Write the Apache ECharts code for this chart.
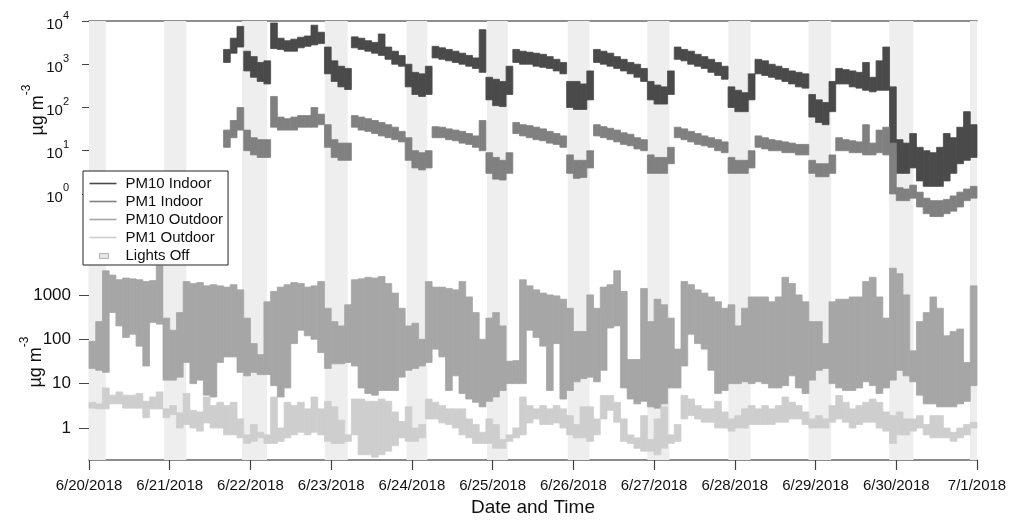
<!DOCTYPE html>
<html><head><meta charset="utf-8">
<script src="https://cdn.jsdelivr.net/npm/echarts@6/dist/echarts.min.js"></script>
<style>html,body{margin:0;padding:0;background:#fff}#c{width:1020px;height:521px}</style>
</head><body><div id="c"></div>
<script>
// ---------- data (µg m-3), 2-hour slots: low / high reading of each slot ----------
const X_START = '2018-06-20 00:00';
const X_END = '2018-07-01 00:00';
const OUT_START = '2018-06-20 00:00';
const IN_START = '2018-06-21 16:00';
const SLOT_HOURS = 2;
const SERIES_NAMES = ['PM10 Indoor', 'PM1 Indoor', 'PM10 Outdoor', 'PM1 Outdoor', 'Lights Off'];
const TOP_TICKS = [1, 10, 100, 1000, 10000];
const BOTTOM_TICKS = [1, 10, 100, 1000];
const Y_TITLE = 'µg m';
const Y_TITLE_SUP = '-3';
const X_TITLE = 'Date and Time';

const PM10_OUT_LO = [
 22,20,18,400,200,110,130,70,25,240,220,12,
 12,14,30,10,12,5.5,5,30,40,40,18,15,
 18,16,16,9,5,8,80,160,120,100,50,22,
 28,28,30,25,8,6,5.5,7,7,7,14,20,
 22,25,30,60,40,7,15,6,4.5,3.8,3,4,
 5,7,10,10,10,160,110,70,7,80,4.5,7,
 11,13,14,11,20,180,200,8,4.5,3.5,4,3,
 2.8,3.5,8,8,25,130,80,60,20,6,7,10,
 10,11,10,11,10,8,8,9,15,8,6,12,
 20,22,10,8,7,7,8,11,9,6,8,12,
 20,15,11,5.5,3.5,3.5,3,3,3,3.5,4,9];
const PM10_OUT_HI = [
 90,250,3500,2800,2200,2400,2300,2200,2000,2100,4500,300,
 160,400,2000,1800,1900,1600,1700,1600,1500,1700,1300,300,
 80,45,700,1200,1500,1700,1900,1800,1500,1600,2000,500,
 250,200,600,2200,2300,2500,2400,2600,1800,1100,500,200,
 230,100,2000,1500,1500,1400,1300,2000,900,400,100,300,
 400,200,32,33,2200,1600,1300,1100,1000,950,800,500,
 150,150,1000,500,1500,1700,3500,1200,35,35,1400,250,
 800,600,300,60,2000,1700,1300,1100,900,700,500,600,
 200,500,900,900,900,700,900,2500,1800,1000,700,250,
 250,80,700,800,800,900,900,2000,2500,900,300,4000,
 3000,1000,55,250,400,900,500,120,150,170,30,1600];
const PM1_OUT_LO = [
 2.8,2.7,2.7,3.5,3.5,2.8,2.8,2.8,1.7,2.7,2.7,1.7,
 2,1.0,1.2,1.0,0.85,1.3,1.0,1.0,0.7,0.7,0.6,0.45,
 0.5,0.6,0.45,0.45,0.5,0.6,0.7,0.8,0.7,0.8,0.7,0.5,
 0.45,0.45,0.5,0.7,0.25,0.25,0.22,0.25,0.3,0.4,0.6,0.5,
 0.5,0.6,1.6,1.6,1.3,1.2,1.0,0.7,0.6,0.45,0.45,0.45,
 0.35,0.35,0.5,0.6,0.7,1.3,1.6,1.2,1.2,1.3,1.0,0.7,
 0.6,0.6,0.5,0.7,1.6,2.5,1.35,0.5,0.45,0.35,0.3,0.3,
 0.25,0.35,0.45,0.5,1.6,1.9,1.6,1.35,1.35,1.0,1.0,0.85,
 1.0,1.0,1.2,1.2,1.2,1.2,1.35,1.35,1.6,1.6,1.2,1.0,
 1.0,1.0,1.35,1.6,1.35,1.0,1.2,1.35,1.35,1.0,0.85,0.45,
 0.7,0.7,0.85,1.0,0.7,0.6,0.6,0.6,0.5,0.6,0.7,1.0];
const PM1_OUT_HI = [
 3.8,3.5,8,5.5,6.5,5.5,5.5,6,4,5,6.5,2.7,
 3.2,2.2,6,2.5,2.3,5,3.2,3.8,3.2,3.8,1.6,0.7,
 1.2,0.8,0.7,5,1.0,3.8,3.2,3.8,2.7,5,2.7,4,
 3,1.5,0.7,4.5,4.5,4,4,4.5,4,2.3,1.4,3,
 1,1.2,4.5,3.8,3.2,2.7,2.7,2.7,1.6,1.2,0.8,1.6,
 1.2,0.55,0.7,1.0,5,3.2,2.7,3.2,2.7,3.2,2.7,1.9,
 1.2,3,3,1.6,5.4,5.4,3.8,1.6,0.7,0.6,1.9,0.55,
 1.6,3,0.7,1.2,5.4,4.5,3.2,2.7,2.7,4,2.3,1.6,
 1.9,2.7,3.2,2.7,3.2,2.7,3.2,5,3.8,3.2,2.3,1.6,
 1.9,1.6,3.2,5.4,3.8,2.7,3.2,3.8,4.5,3.8,2.3,1.9,
 2.3,1.6,1.6,1.9,1.2,1.9,1.9,1.0,0.8,1.0,1.2,1.35];
const PM10_IN_LO = [
 1100,1800,2500,700,
 500,400,350,2300,2200,2000,2000,2400,2600,2800,3000,600,
 400,300,260,2400,2200,2000,1800,1600,1300,1000,900,300,
 200,180,200,1400,1300,1200,1100,1000,900,800,650,150,
 110,105,200,1100,1000,1000,900,850,800,700,600,100,
 90,90,150,1100,1000,900,800,700,600,500,400,150,
 120,120,200,1300,1200,1000,900,800,650,550,450,100,
 80,80,150,600,550,500,450,400,350,300,280,60,
 45,40,80,350,350,300,280,250,230,250,250,10,
 3,3,4,2,1.5,1.5,1.5,2,3,5,6,7];
const PM10_IN_HI = [
 2200,4000,7500,2000,
 1500,1100,1200,9000,4000,3500,3800,4200,4500,8000,5500,2500,
 1200,900,800,4300,4000,3500,3200,5000,2500,2000,1600,1000,
 650,600,900,2600,2400,2200,2000,1800,1600,1400,6300,500,
 450,400,900,2200,2000,1900,1800,1700,1500,1300,1100,400,
 400,350,700,2200,2000,1800,1500,1300,1100,1000,800,400,
 330,300,700,2500,2200,2000,1700,1500,1300,1100,900,300,
 250,220,600,1300,1200,1000,900,800,700,650,600,200,
 150,130,400,800,750,700,650,1100,500,1200,2500,300,
 18,15,25,12,10,9,12,25,20,35,80,40];
const PM1_IN_LO = [
 12,20,30,10,
 8,7,7,35,30,30,30,35,35,35,40,12,
 7,6,6,35,30,28,25,22,20,18,16,6,
 4,3.6,4,20,20,18,17,15,14,12,10,3,
 2.2,2.1,3,25,22,20,18,17,15,14,12,3,
 2.3,2.4,4,22,20,18,16,14,13,11,10,3,
 3,3,5,20,18,16,14,13,12,10,9,3,
 3,3,4,12,11,10,10,9,9,8,8,3,
 2.5,2.5,3,10,10,9,9,8,8,9,8,1.0,
 0.7,0.7,0.8,0.5,0.35,0.3,0.3,0.35,0.4,0.5,0.7,0.8];
const PM1_IN_HI = [
 30,50,100,30,
 20,18,18,180,60,55,60,65,65,100,70,40,
 18,15,15,65,60,55,50,45,40,35,28,20,
 10,9,10,36,35,32,30,28,25,22,50,9,
 7,6,9,45,40,38,35,32,28,25,22,8,
 6,6,10,40,36,33,30,26,24,20,18,8,
 7,7,12,35,32,28,25,22,20,18,16,7,
 6,6,10,22,20,18,17,16,15,14,14,6,
 5,5,8,20,18,17,16,40,15,30,35,15,
 1.4,1.3,1.6,1.1,0.8,0.7,0.7,0.75,0.9,1.1,1.3,1.5];
const LIGHTS_OFF = [
 ['2018-06-20 00:00','2018-06-20 05:00'],
 ['2018-06-20 22:20','2018-06-21 04:55'],
 ['2018-06-21 21:30','2018-06-22 04:55'],
 ['2018-06-22 22:05','2018-06-23 04:55'],
 ['2018-06-23 22:25','2018-06-24 04:35'],
 ['2018-06-24 22:20','2018-06-25 04:30'],
 ['2018-06-25 22:20','2018-06-26 04:50'],
 ['2018-06-26 22:00','2018-06-27 04:35'],
 ['2018-06-27 22:05','2018-06-28 04:40'],
 ['2018-06-28 21:55','2018-06-29 04:40'],
 ['2018-06-29 21:55','2018-06-30 05:05'],
 ['2018-06-30 21:55','2018-07-01 00:00']];

// ---------- helpers ----------
const HOUR = 3600000, DAY = 86400000;
function t(s){const [d,h]=s.split(' ');const [Y,M,D]=d.split('-').map(Number);const [hh,mm]=h.split(':').map(Number);return Date.UTC(Y,M-1,D,hh,mm);}
function slots(start, lo, hi){const t0=t(start);return lo.map((v,i)=>[t0+i*SLOT_HOURS*HOUR, v, hi[i]]);}
function fmtDate(v){const d=new Date(v);return (d.getUTCMonth()+1)+'/'+d.getUTCDate()+'/'+d.getUTCFullYear();}

const FONT = 'Liberation Sans, Arial, sans-serif';
const C_PM10_IN = '#4a4a4a', C_PM1_IN = '#808080', C_PM10_OUT = '#a6a6a6', C_PM1_OUT = '#cecece', C_BAND = '#eeeeee';
const xMin = t(X_START), xMax = t(X_END);
const LINE_ICON = 'path://M0,0M27,12M0,5.2L27,5.2L27,6.8L0,6.8Z';

const chart = echarts.init(document.getElementById('c'), null, {renderer:'canvas'});
// range series: each 2-hour slot is drawn as a band from its low to its high reading
const rangeSeries = (name, data, color, xi, yi, z) => ({
  name, type:'custom', data, xAxisIndex:xi, yAxisIndex:yi, z, silent:true,
  itemStyle:{color}, encode:{x:0, y:[1,2]},
  renderItem:(params, api)=>{
    const a = api.coord([api.value(0), api.value(2)]);
    const b = api.coord([api.value(0) + SLOT_HOURS*HOUR, api.value(1)]);
    return {type:'rect', shape:{x:a[0], y:a[1], width:b[0]-a[0], height:Math.max(b[1]-a[1], 0.5)},
            style:{fill:color, stroke:color, lineWidth:0.8}};
  }
});

chart.setOption({
  animation:false,
  backgroundColor:'#fff',
  textStyle:{fontFamily:FONT},
  grid:[
    {left:89, right:43, top:21, height:199},
    {left:89, right:43, top:263, height:197},
    {left:89, right:43, top:21, height:439}
  ],
  xAxis:[
    {gridIndex:0, type:'value', min:xMin, max:xMax, interval:DAY, position:'top',
     axisLine:{show:true, lineStyle:{color:'#6a6a6a', width:1.5}}, axisTick:{show:false}, axisLabel:{show:false}, splitLine:{show:false}},
    {gridIndex:1, type:'value', min:xMin, max:xMax, interval:DAY, position:'bottom',
     axisLine:{show:true, onZero:false, lineStyle:{color:'#666', width:1.5}},
     axisTick:{show:true, length:10, lineStyle:{color:'#444', width:1.2}},
     axisLabel:{show:true, formatter:fmtDate, fontSize:15, color:'#111', margin:18, fontFamily:FONT},
     splitLine:{show:false},
     name:X_TITLE, nameLocation:'middle', nameGap:38, nameTextStyle:{fontSize:19, color:'#111', fontFamily:FONT}},
    {gridIndex:2, type:'value', min:xMin, max:xMax, show:false}
  ],
  yAxis:[
    {gridIndex:0, type:'log', logBase:10, min:0.25, max:10000,
     axisLine:{show:false}, axisTick:{show:true, length:7, customValues:TOP_TICKS, lineStyle:{color:'#444'}},
     splitLine:{show:false}, minorTick:{show:false},
     axisLabel:{margin:20, color:'#111', fontFamily:FONT, customValues:TOP_TICKS,
       formatter:v=>'{b|10}{s|'+Math.round(Math.log10(v))+'}',
       rich:{b:{fontSize:15, color:'#111', fontFamily:FONT, verticalAlign:'bottom', lineHeight:22},
             s:{fontSize:11, color:'#111', fontFamily:FONT, verticalAlign:'top', lineHeight:12}}}},
    {gridIndex:1, type:'log', logBase:10, min:0.19, max:5240,
     axisLine:{show:true, lineStyle:{color:'#999', width:1.2}},
     axisTick:{show:true, length:10, customValues:BOTTOM_TICKS, lineStyle:{color:'#444'}},
     splitLine:{show:false}, minorTick:{show:false},
     axisLabel:{margin:18, fontSize:17, color:'#111', fontFamily:FONT, customValues:BOTTOM_TICKS,
       formatter:v=>String(Math.round(v))}},
    {gridIndex:2, type:'value', min:0, max:1, show:false}
  ],
  legend:{
    orient:'vertical', left:83, top:171, backgroundColor:'#fff', borderColor:'#222', borderWidth:1, borderRadius:0,
    padding:[5,5,2,6], itemWidth:27, itemHeight:12, itemGap:3, z:10,
    textStyle:{fontSize:15, color:'#111', fontFamily:FONT, lineHeight:15, padding:[0,0,0,4]},
    data:[
      {name:SERIES_NAMES[0], icon:LINE_ICON},{name:SERIES_NAMES[1], icon:LINE_ICON},
      {name:SERIES_NAMES[2], icon:LINE_ICON},{name:SERIES_NAMES[3], icon:LINE_ICON},
      {name:SERIES_NAMES[4], icon:'path://M0,0M27,12M10,4L19,4L19,9L10,9Z', itemStyle:{color:'#e6e6e6', borderColor:'#b0b0b0', borderWidth:1}}
    ]
  },
  graphic:[
    {type:'text', x:34, y:110, rotation:Math.PI/2, z:10,
     style:{text:'{a|'+Y_TITLE+'}{s|'+Y_TITLE_SUP+'}', align:'center', verticalAlign:'middle', textAlign:'center', textVerticalAlign:'middle',
       rich:{a:{fontSize:18, fill:'#111', fontFamily:FONT, verticalAlign:'bottom', lineHeight:26},
             s:{fontSize:12, fill:'#111', fontFamily:FONT, verticalAlign:'top', lineHeight:14}}}},
    {type:'text', x:32, y:362, rotation:Math.PI/2, z:10,
     style:{text:'{a|'+Y_TITLE+'}{s|'+Y_TITLE_SUP+'}', align:'center', verticalAlign:'middle', textAlign:'center', textVerticalAlign:'middle',
       rich:{a:{fontSize:18, fill:'#111', fontFamily:FONT, verticalAlign:'bottom', lineHeight:26},
             s:{fontSize:12, fill:'#111', fontFamily:FONT, verticalAlign:'top', lineHeight:14}}}}
  ],
  series:[
    {name:SERIES_NAMES[4], type:'custom', xAxisIndex:2, yAxisIndex:2, z:1, silent:true,
     itemStyle:{color:C_BAND},
     encode:{x:[0,1]},
     data:LIGHTS_OFF.map(p=>[t(p[0]), t(p[1])]),
     renderItem:(params, api)=>{
       const a = api.coord([api.value(0), 1]);
       const b = api.coord([api.value(1), 0]);
       return {type:'rect', shape:{x:a[0], y:a[1], width:b[0]-a[0], height:b[1]-a[1]}, style:{fill:C_BAND}};
     }},
    rangeSeries(SERIES_NAMES[0], slots(IN_START, PM10_IN_LO, PM10_IN_HI), C_PM10_IN, 0, 0, 3),
    rangeSeries(SERIES_NAMES[1], slots(IN_START, PM1_IN_LO, PM1_IN_HI), C_PM1_IN, 0, 0, 3),
    rangeSeries(SERIES_NAMES[2], slots(OUT_START, PM10_OUT_LO, PM10_OUT_HI), C_PM10_OUT, 1, 1, 3),
    rangeSeries(SERIES_NAMES[3], slots(OUT_START, PM1_OUT_LO, PM1_OUT_HI), C_PM1_OUT, 1, 1, 4)
  ]
});
</script></body></html>
